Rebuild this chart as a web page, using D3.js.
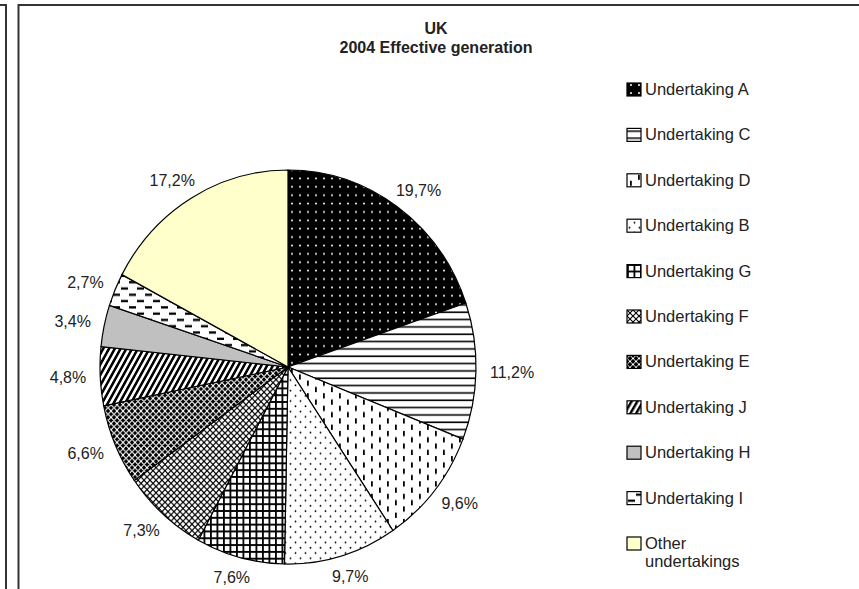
<!DOCTYPE html>
<html>
<head>
<meta charset="utf-8">
<script src="https://cdn.jsdelivr.net/npm/d3@7"></script>
<style>
  body { margin: 0; background: #fff; }
  svg { display: block; font-family: 'Liberation Sans', Arial, sans-serif; }
</style>
</head>
<body>
<svg id="chart" width="859" height="589"></svg>
<script>
// Chart data
const titleLines = ['UK', '2004 Effective generation'];
const categories = ['Undertaking A', 'Undertaking C', 'Undertaking D', 'Undertaking B', 'Undertaking G',
    'Undertaking F', 'Undertaking E', 'Undertaking J', 'Undertaking H', 'Undertaking I', 'Other undertakings'];
const shares = [19.7, 11.2, 9.6, 9.7, 7.6, 7.3, 6.6, 4.8, 3.4, 2.7, 17.2];
const legendLabels = [['Undertaking A'], ['Undertaking C'], ['Undertaking D'], ['Undertaking B'], ['Undertaking G'],
    ['Undertaking F'], ['Undertaking E'], ['Undertaking J'], ['Undertaking H'], ['Undertaking I'], ['Other', 'undertakings']];
const fills = ['url(#pA)', 'url(#pC)', 'url(#pD)', 'url(#pB)', 'url(#pG)',
    'url(#pF)', 'url(#pE)', 'url(#pJ)', '#c0c0c0', 'url(#pI)', '#ffffcc'];

const svg = d3.select('#chart');

// frames
svg.append('path').attr('d', 'M0,5 H6 V589').attr('fill', 'none').attr('stroke', '#333').attr('stroke-width', 2);
svg.append('path').attr('d', 'M18.5,589 V5 H860').attr('fill', 'none').attr('stroke', '#333').attr('stroke-width', 2);

// fill patterns
const defs = svg.append('defs');
function pattern(id, w, h, bg, transform) {
    const p = defs.append('pattern').attr('id', id).attr('patternUnits', 'userSpaceOnUse')
        .attr('width', w).attr('height', h);
    if (transform) p.attr('patternTransform', transform);
    p.append('rect').attr('width', w).attr('height', h).attr('fill', bg);
    return p;
}
// A: black with white dots
pattern('pA', 8, 8, '#000').append('circle').attr('cx', 4).attr('cy', 4).attr('r', 1).attr('fill', '#fff');
// C: horizontal lines
pattern('pC', 7, 7, '#fff').append('rect').attr('y', 3).attr('width', 7).attr('height', 1.5).attr('fill', '#000');
// D: vertical dashes, staggered
const pD = pattern('pD', 16, 12, '#fff');
pD.append('rect').attr('x', 3).attr('y', 1).attr('width', 1.8).attr('height', 5).attr('fill', '#000');
pD.append('rect').attr('x', 11).attr('y', 7).attr('width', 1.8).attr('height', 5).attr('fill', '#000');
// B: small dots
const pB = pattern('pB', 10, 10, '#fff');
pB.append('circle').attr('cx', 2.5).attr('cy', 2.5).attr('r', 0.9).attr('fill', '#000');
pB.append('circle').attr('cx', 7.5).attr('cy', 7.5).attr('r', 0.9).attr('fill', '#000');
// G: square grid
const pG = pattern('pG', 6.5, 6.5, '#fff');
pG.append('rect').attr('width', 1.8).attr('height', 6.5).attr('fill', '#000');
pG.append('rect').attr('width', 6.5).attr('height', 1.8).attr('fill', '#000');
// F: light diamond lattice
const pF = pattern('pF', 6, 6, '#fff');
pF.append('path').attr('d', 'M0,0 L6,6 M0,6 L6,0').attr('stroke', '#000').attr('stroke-width', 1.1);
// E: dark lattice
const pE = pattern('pE', 6, 6, '#000');
pE.append('path').attr('d', 'M0,3 L3,0 L6,3 L3,6 Z').attr('fill', 'none').attr('stroke', '#fff').attr('stroke-width', 1);
// J: diagonal stripes
pattern('pJ', 5, 5, '#fff', 'rotate(30)').append('rect').attr('width', 2.5).attr('height', 5).attr('fill', '#000');
// I: horizontal dashes, staggered
const pI = pattern('pI', 16, 12, '#fff');
pI.append('rect').attr('x', 1).attr('y', 2).attr('width', 7).attr('height', 2.2).attr('fill', '#000');
pI.append('rect').attr('x', 9).attr('y', 8).attr('width', 7).attr('height', 2.2).attr('fill', '#000');

// title
svg.append('g').selectAll('text').data(titleLines).enter().append('text')
    .attr('x', 436).attr('y', (d, i) => 34 + i * 19)
    .attr('text-anchor', 'middle').attr('font-size', 16).attr('font-weight', 'bold').attr('fill', '#222')
    .text(d => d);

// pie
const cx = 288, cy = 367, r = 188, ky = 1.048;
const pie = d3.pie().sort(null).value(d => d);
const arc = d3.arc().innerRadius(0).outerRadius(r);
const arcs = pie(shares);

svg.append('g').attr('transform', `translate(${cx},${cy}) scale(1,${ky})`)
    .selectAll('path').data(arcs).enter().append('path')
    .attr('d', arc)
    .attr('fill', (d, i) => fills[i])
    .attr('stroke', '#000').attr('stroke-width', 1.2)
    .attr('vector-effect', 'non-scaling-stroke');

// percentage labels outside the pie
const fmt = v => d3.format('.1f')(v).replace('.', ',') + '%';
svg.append('g').selectAll('text').data(arcs).enter().append('text')
    .attr('font-size', 16).attr('text-anchor', 'middle').attr('fill', '#222')
    .text(d => fmt(d.data))
    .each(function(d) {
        const a = (d.startAngle + d.endAngle) / 2;
        const w = this.getComputedTextLength(), h = 12;
        const px = cx + (r + 14) * Math.sin(a);
        const py = cy - (r + 14) * ky * Math.cos(a);
        d3.select(this)
            .attr('x', px + Math.sin(a) * w / 2)
            .attr('y', py - Math.cos(a) * h / 2 + h / 2);
    });

// legend
const ly = d3.scalePoint().domain(categories).range([89, 543]);
const legend = svg.append('g').selectAll('g').data(categories).enter().append('g')
    .attr('transform', d => `translate(627,${ly(d)})`);
legend.append('rect').attr('x', 0).attr('y', -6).attr('width', 14).attr('height', 13)
    .attr('fill', (d, i) => fills[i]).attr('stroke', '#000').attr('stroke-width', 1.2);
legend.append('text').attr('x', 18).attr('y', 6).attr('font-size', 16.5).attr('fill', '#222')
    .selectAll('tspan').data((d, i) => legendLabels[i]).enter().append('tspan')
    .attr('x', 18).attr('dy', (d, i) => i === 0 ? 0 : 18)
    .text(d => d);
</script>
</body>
</html>
